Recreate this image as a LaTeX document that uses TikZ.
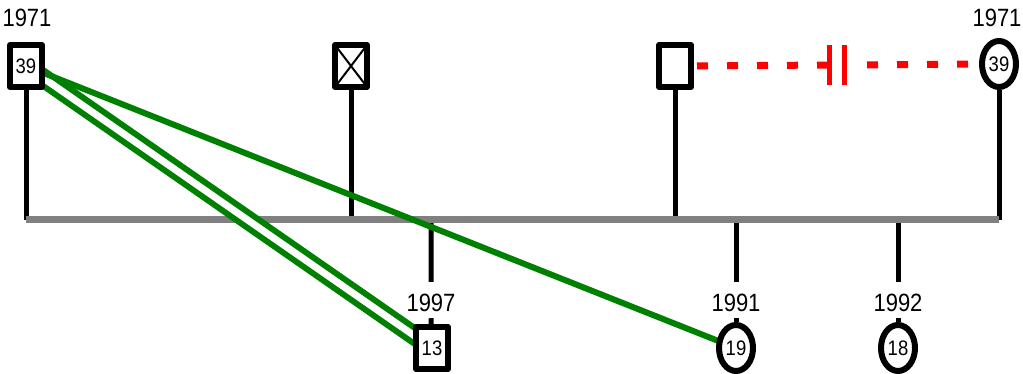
\documentclass[tikz,border=0pt]{standalone}
\usepackage{fontspec}
\setmainfont{Liberation Sans}[FakeStretch=0.88]
\usetikzlibrary{shapes.geometric,backgrounds}

\definecolor{kingreen}{RGB}{0,128,0}
\definecolor{lineage}{RGB}{128,128,128}

\tikzset{
	sqnode/.style={draw,line width=6pt,line join=round,fill=white,inner sep=0pt,
		minimum width=32pt,minimum height=42pt,font=\fontsize{21}{24}\selectfont},
	ovnode/.style={ellipse,draw,line width=6pt,fill=white,inner sep=0pt,
		minimum width=34pt,minimum height=46pt,font=\fontsize{21}{24}\selectfont},
	deadnode/.style={sqnode,path picture={
		\draw[line width=2pt] (path picture bounding box.north west) -- (path picture bounding box.south east)
			(path picture bounding box.north east) -- (path picture bounding box.south west);}},
	yearlbl/.style={inner sep=0pt,anchor=base,font=\fontsize{25}{30}\selectfont},
	kidyear/.style={yearlbl,text height=29.7pt,text depth=6.3pt},
	stem/.style={line width=5pt},
	sibline/.style={line width=7pt,draw=lineage},
	redline/.style={line width=7pt,draw=red,dash pattern=on 11pt off 19pt},
	redbar/.style={line width=5.5pt,draw=red},
	tie/.style={line width=6pt,draw=kingreen},
	twintie/.style={line width=6pt,draw=kingreen,double=white,double distance=7pt}
}

\begin{document}
\begin{tikzpicture}[x=1pt,y=-1pt]
	\useasboundingbox (0,0) rectangle (1023,374);
	% top row
	\node[sqnode] (p39) at (26,66) {39};
	\node[deadnode] (pdead) at (351,66) {};
	\node[sqnode] (pm) at (675,66) {};
	\node[ovnode] (pf) at (999,64) {39};
	\node[yearlbl] (y39) at (27,26.7) {1971};
	\node[yearlbl] (yf) at (997,26.7) {1971};
	% children
	\node[sqnode] (c13) at (432,348) {13};
	\node[ovnode] (c19) at (736,348) {19};
	\node[ovnode] (c18) at (898,348) {18};
	\node[kidyear] (y13) at (431,311.7) {1997};
	\node[kidyear] (y19) at (736,311.7) {1991};
	\node[kidyear] (y18) at (898,311.7) {1992};
	% line junctions
	\coordinate (jl) at (26,220);
	\coordinate (jdead) at (351,220);
	\coordinate (jm) at (675,220);
	\coordinate (jr) at (999,220);
	\coordinate (j13) at (431,220);
	\coordinate (j19) at (736,220);
	\coordinate (j18) at (898,220);
	\coordinate (b1) at (829.5,65);
	\coordinate (b2) at (844.5,65);
	\begin{scope}[on background layer]
		\draw[stem] (p39) -- (jl);
		\draw[stem] (pdead) -- (jdead);
		\draw[stem] (pm) -- (jm);
		\draw[stem] (pf) -- (jr);
		\draw[stem] (j13) -- (y13.north) (y13.south) -- (c13);
		\draw[stem] (j19) -- (y19.north) (y19.south) -- (c19);
		\draw[stem] (j18) -- (y18.north) (y18.south) -- (c18);
		\draw[sibline] (jl) -- (jr);
		\draw[twintie] (p39.center) -- (c13.center);
		\draw[tie] (p39.center) -- (c19.center);
	\end{scope}
	% separated couple
	\draw[redline,dash phase=27pt] (pm.east) -- (b1);
	\draw[redline,dash phase=19pt,shorten >=5pt] (pf.west) -- (b2);
	\draw[redbar] ([yshift=20pt]b1) -- ([yshift=-20pt]b1);
	\draw[redbar] ([yshift=20pt]b2) -- ([yshift=-20pt]b2);
\end{tikzpicture}
\end{document}
